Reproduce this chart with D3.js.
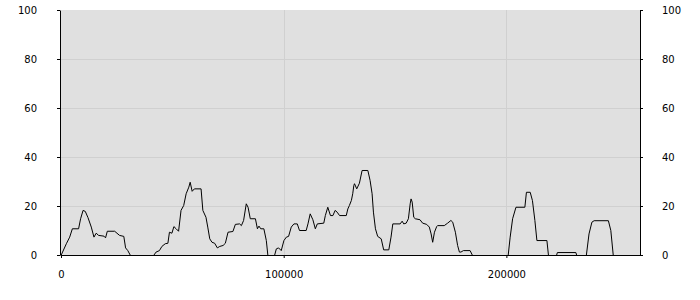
<!DOCTYPE html>
<html>
<head>
<meta charset="utf-8">
<script src="https://cdn.jsdelivr.net/npm/d3@7"></script>
<style>
  body { margin: 0; background: #fff; }
  svg { display: block; font-family: "DejaVu Sans", sans-serif; }
</style>
</head>
<body>
<svg></svg>
<script>
var positions = [0, 2400, 3900, 5100, 7900, 8800, 9900, 10900, 12100, 13600, 14800, 15800, 16900, 19300, 20000, 20800, 24100, 26300, 28200, 29000, 30000, 31200,
  41600, 42700, 44200, 45300, 46800, 48000, 48700, 49800, 50700, 51700, 52800, 53900, 55100, 56200, 57400, 58000, 58900, 59900, 62900, 63700, 65100, 65900,
  66800, 67800, 69000, 70200, 71300, 72800, 73800, 75000, 77200, 78300, 80200, 81000, 82000, 83200, 84000, 85000, 87300, 88200, 88900, 89700, 91100, 92200, 92900,
  95900, 96700, 97700, 98900, 100100, 101200, 102200, 103400, 104600, 106100, 107100, 110100, 110900, 111900, 113100, 114200, 115100, 118000, 118700, 119800,
  121000, 122100, 123100, 124000, 125100, 128100, 128800, 129500, 130400, 131000, 131500, 131800, 132800, 134000, 135200, 137800, 138800, 139700, 140300,
  141200, 142200, 143800, 144900, 147200, 148200, 149000, 152300, 153200, 153900, 155000, 156000, 156800, 157200, 157700, 158400, 159100, 161200, 162400,
  164200, 165400, 166200, 166900, 167700, 168700, 169100, 172100, 173600, 175100, 175900, 177100, 178100, 178900, 179600, 180700, 183700, 184800,
  200800, 201700, 202800, 204300, 208300, 209000, 210700, 211700, 212800, 213700, 218200, 218900,
  222500, 222900, 231200, 231600, 235900, 237100, 238400, 239400, 245800, 246900, 248000, 260000];

var values = [0, 4.8, 7.5, 10.9, 10.9, 15, 18.4, 18, 15.5, 11.6, 7.5, 9.1, 8.2, 7.9, 7.2, 9.9, 9.9, 8.2, 7.8, 3.1, 2, 0,
  0, 1.4, 2, 3.7, 4.8, 5, 9.5, 9.1, 11.8, 10.9, 9.9, 18.4, 20.4, 25.2, 27.9, 29.9, 26.2, 27.2, 27.2, 18.4, 15.6, 11.6,
  6.8, 5.4, 5, 3.1, 3.7, 4.1, 5, 9.5, 9.8, 12.7, 12.9, 12.2, 14.3, 21.1, 19.7, 15, 15, 10.9, 12, 10.9, 10.9, 6.1, 0,
  0, 2.7, 3.1, 2, 6.1, 7.5, 7.8, 11.6, 12.9, 12.9, 10.2, 10.2, 12.9, 17, 14.6, 10.9, 12.9, 13.2, 16.3, 19.7,
  16.3, 16.3, 18.4, 17.7, 16.3, 16.3, 19, 20.4, 22.5, 25.2, 28.6, 29.3, 27.2, 29.5, 34.7, 34.7, 30.6, 25.2, 17.7,
  10.9, 7.8, 6.8, 2.3, 2.3, 7.5, 12.9, 12.9, 14, 12.9, 13.2, 15, 21.1, 23.1, 21.8, 15.6, 15, 14.6, 13.2,
  12.7, 11.6, 8.8, 5.4, 9.5, 11.8, 12.2, 12.2, 13.2, 14.3, 13.6, 9.5, 4.1, 1.4, 1.4, 2, 2, 0,
  0, 7.5, 15, 19.7, 19.7, 25.8, 25.8, 22.4, 14.3, 6.1, 6.1, 0,
  0, 1.2, 1.2, 0, 0, 8.8, 13.6, 14.2, 14.2, 10.2, 0, 0];

var xTicks = [0, 100000, 200000];
var yTicks = [0, 20, 40, 60, 80, 100];

var svg = d3.select("svg"),
    width = 700,
    height = 300;

svg.attr("width", width)
  .attr("height", height);

var x = d3.scaleLinear()
  .domain([0, 260000])
  .range([61, 640]);

var y = d3.scaleLinear()
  .domain([0, 100])
  .range([255, 10]);

svg.append("rect")
  .attr("x", 61)
  .attr("y", 10)
  .attr("width", 579)
  .attr("height", 245)
  .attr("fill", "#e0e0e0");

// grid
svg.append("g")
  .selectAll("line")
  .data(yTicks.filter(function(d) { return d > 0 && d < 100; }))
  .enter().append("line")
  .attr("x1", 61).attr("x2", 640)
  .attr("y1", function(d) { return Math.round(y(d)) + 0.5; })
  .attr("y2", function(d) { return Math.round(y(d)) + 0.5; })
  .attr("stroke", "#d0d0d0");

svg.append("g")
  .selectAll("line")
  .data(xTicks.filter(function(d) { return d > 0; }))
  .enter().append("line")
  .attr("y1", 10).attr("y2", 255)
  .attr("x1", function(d) { return Math.round(x(d)) + 0.5; })
  .attr("x2", function(d) { return Math.round(x(d)) + 0.5; })
  .attr("stroke", "#d0d0d0");

var line = d3.line()
  .x(function(d, i) { return x(positions[i]); })
  .y(function(d) { return y(d); });

// shifted half a pixel so the zero stretches sit on the axis line
svg.append("path")
  .datum(values)
  .attr("transform", "translate(0,0.5)")
  .attr("d", line)
  .attr("fill", "none")
  .attr("stroke", "#000")
  .attr("stroke-width", 1);

// axes
var left = svg.append("g")
  .attr("transform", "translate(60,0)")
  .call(d3.axisLeft(y).tickValues(yTicks).tickSize(3).tickSizeOuter(0).tickPadding(20));

var right = svg.append("g")
  .attr("transform", "translate(640,0)")
  .call(d3.axisRight(y).tickValues(yTicks).tickSize(3).tickSizeOuter(0).tickPadding(19));

var bottom = svg.append("g")
  .attr("transform", "translate(0,255)")
  .call(d3.axisBottom(x).tickValues(xTicks).tickSize(3).tickSizeOuter(0).tickPadding(13).tickFormat(d3.format("d")));

svg.selectAll(".tick text")
  .attr("font-size", 10)
  .attr("font-family", "DejaVu Sans, sans-serif")
  .attr("fill", "#000");
svg.selectAll(".domain").attr("stroke", "#000");
svg.selectAll(".tick line").attr("stroke", "#000");
</script>
</body>
</html>
